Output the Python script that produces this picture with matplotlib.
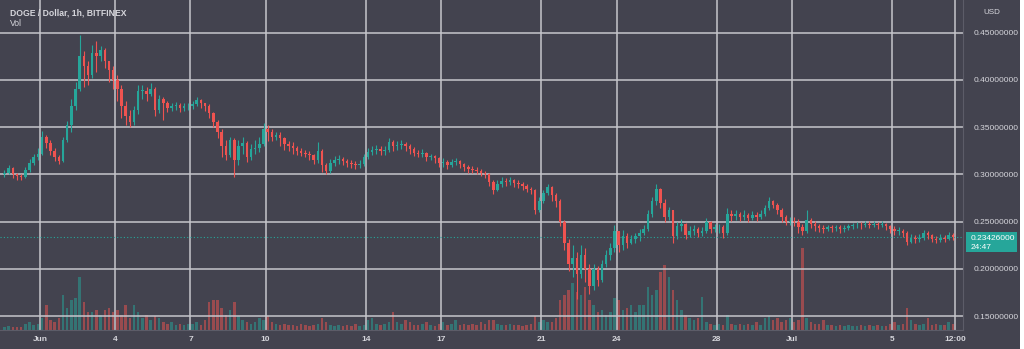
import matplotlib
matplotlib.use("Agg")
import matplotlib.pyplot as plt
import matplotlib.transforms as mtransforms
from matplotlib.patches import Rectangle
import numpy as np

plt.rcParams["font.family"] = ["Liberation Sans", "DejaVu Sans"]

# ---------------- data (4-hour candles) ----------------
start_day = -0.5          # May 30, 12:00 (day 1 = Jun 1)
candles_per_day = 6

close = [
    0.302, 0.307, 0.300,                                  # May 30 pm
    0.298, 0.297, 0.305, 0.312, 0.318, 0.322,             # May 31
    0.340, 0.333, 0.325, 0.318, 0.314, 0.336,             # Jun 1
    0.352, 0.372, 0.390, 0.425, 0.415, 0.405,             # Jun 2
    0.428, 0.425, 0.432, 0.420, 0.410, 0.400,             # Jun 3
    0.390, 0.372, 0.362, 0.355, 0.368, 0.388,             # Jun 4
    0.388, 0.385, 0.390, 0.368, 0.380, 0.375,             # Jun 5
    0.370, 0.372, 0.373, 0.370, 0.372, 0.372,             # Jun 6
    0.374, 0.379, 0.375, 0.372, 0.365, 0.355,             # Jun 7
    0.345, 0.330, 0.320, 0.336, 0.315, 0.330,             # Jun 8
    0.333, 0.318, 0.327, 0.328, 0.332, 0.348,             # Jun 9
    0.345, 0.340, 0.342, 0.338, 0.332, 0.330,             # Jun 10
    0.328, 0.325, 0.323, 0.322, 0.320, 0.315,             # Jun 11
    0.325, 0.310, 0.304, 0.312, 0.315, 0.316,             # Jun 12
    0.314, 0.312, 0.311, 0.310, 0.311, 0.318,             # Jun 13
    0.324, 0.326, 0.327, 0.325, 0.326, 0.334,             # Jun 14
    0.330, 0.331, 0.332, 0.330, 0.327, 0.323,             # Jun 15
    0.322, 0.323, 0.318, 0.319, 0.317, 0.312,             # Jun 16
    0.313, 0.310, 0.313, 0.314, 0.311, 0.308,             # Jun 17
    0.306, 0.305, 0.304, 0.302, 0.300, 0.292,             # Jun 18
    0.284, 0.290, 0.293, 0.292, 0.294, 0.291,             # Jun 19
    0.290, 0.288, 0.285, 0.283, 0.262, 0.272,             # Jun 20
    0.280, 0.287, 0.278, 0.272, 0.250, 0.228,             # Jun 21
    0.205, 0.212, 0.195, 0.215, 0.200, 0.182,             # Jun 22
    0.200, 0.188, 0.205, 0.215, 0.222, 0.240,             # Jun 23
    0.225, 0.235, 0.228, 0.232, 0.235, 0.238,             # Jun 24
    0.242, 0.258, 0.272, 0.285, 0.270, 0.255,             # Jun 25
    0.262, 0.235, 0.245, 0.248, 0.236, 0.240,             # Jun 26
    0.242, 0.238, 0.240, 0.250, 0.242, 0.244,             # Jun 27
    0.244, 0.238, 0.258, 0.256, 0.258, 0.255,             # Jun 28
    0.257, 0.254, 0.257, 0.255, 0.258, 0.265,             # Jun 29
    0.272, 0.268, 0.262, 0.255, 0.250, 0.251,             # Jun 30
    0.250, 0.244, 0.240, 0.252, 0.248, 0.245,             # Jul 1
    0.243, 0.242, 0.244, 0.243, 0.244, 0.242,             # Jul 2
    0.243, 0.245, 0.246, 0.247, 0.246, 0.248,             # Jul 3
    0.247, 0.248, 0.246, 0.248, 0.245, 0.242,             # Jul 4
    0.240, 0.240, 0.238, 0.229, 0.233, 0.232,             # Jul 5
    0.233, 0.238, 0.236, 0.232, 0.231, 0.233,             # Jul 6
    0.232, 0.236, 0.23426,                                # Jul 7 am
]

high = [
    0.305, 0.310, 0.308,
    0.302, 0.300, 0.308, 0.316, 0.322, 0.328,
    0.346, 0.342, 0.336, 0.328, 0.320, 0.340,
    0.356, 0.380, 0.398, 0.447, 0.430, 0.420,
    0.437, 0.441, 0.436, 0.434, 0.420, 0.415,
    0.405, 0.395, 0.378, 0.368, 0.372, 0.395,
    0.395, 0.392, 0.397, 0.392, 0.384, 0.382,
    0.378, 0.376, 0.377, 0.376, 0.376, 0.376,
    0.378, 0.382, 0.380, 0.376, 0.374, 0.366,
    0.358, 0.348, 0.336, 0.340, 0.338, 0.336,
    0.340, 0.335, 0.332, 0.336, 0.340, 0.354,
    0.352, 0.348, 0.345, 0.345, 0.340, 0.335,
    0.334, 0.330, 0.328, 0.326, 0.325, 0.322,
    0.334, 0.327, 0.312, 0.316, 0.319, 0.320,
    0.318, 0.316, 0.315, 0.314, 0.315, 0.322,
    0.328, 0.330, 0.331, 0.330, 0.330, 0.339,
    0.336, 0.335, 0.336, 0.334, 0.332, 0.329,
    0.326, 0.327, 0.324, 0.322, 0.321, 0.318,
    0.317, 0.315, 0.316, 0.317, 0.315, 0.312,
    0.310, 0.309, 0.308, 0.306, 0.304, 0.302,
    0.294, 0.294, 0.297, 0.296, 0.297, 0.295,
    0.294, 0.292, 0.290, 0.287, 0.285, 0.276,
    0.283, 0.290, 0.288, 0.280, 0.274, 0.252,
    0.232, 0.225, 0.218, 0.225, 0.222, 0.205,
    0.205, 0.203, 0.210, 0.220, 0.228, 0.246,
    0.240, 0.241, 0.238, 0.236, 0.238, 0.242,
    0.246, 0.262, 0.276, 0.290, 0.286, 0.274,
    0.266, 0.262, 0.250, 0.253, 0.249, 0.245,
    0.246, 0.244, 0.244, 0.254, 0.251, 0.248,
    0.248, 0.246, 0.264, 0.262, 0.262, 0.260,
    0.262, 0.259, 0.261, 0.260, 0.262, 0.268,
    0.276, 0.273, 0.270, 0.264, 0.257, 0.255,
    0.255, 0.253, 0.248, 0.262, 0.254, 0.251,
    0.248, 0.246, 0.247, 0.247, 0.247, 0.246,
    0.247, 0.248, 0.249, 0.250, 0.250, 0.251,
    0.251, 0.251, 0.250, 0.251, 0.249, 0.247,
    0.245, 0.244, 0.242, 0.240, 0.237, 0.236,
    0.237, 0.241, 0.240, 0.237, 0.235, 0.237,
    0.236, 0.239, 0.238,
]

low = [
    0.297, 0.300, 0.296,
    0.294, 0.294, 0.296, 0.303, 0.310, 0.315,
    0.320, 0.328, 0.320, 0.314, 0.311, 0.313,
    0.334, 0.345, 0.368, 0.388, 0.392, 0.395,
    0.402, 0.408, 0.420, 0.412, 0.398, 0.390,
    0.378, 0.360, 0.352, 0.350, 0.352, 0.364,
    0.380, 0.378, 0.383, 0.362, 0.365, 0.358,
    0.366, 0.367, 0.368, 0.366, 0.367, 0.368,
    0.369, 0.372, 0.370, 0.367, 0.360, 0.350,
    0.338, 0.318, 0.315, 0.318, 0.297, 0.310,
    0.322, 0.313, 0.315, 0.322, 0.324, 0.330,
    0.335, 0.335, 0.336, 0.330, 0.326, 0.325,
    0.322, 0.320, 0.319, 0.318, 0.315, 0.311,
    0.312, 0.303, 0.300, 0.302, 0.309, 0.311,
    0.310, 0.308, 0.307, 0.306, 0.307, 0.309,
    0.316, 0.321, 0.322, 0.320, 0.321, 0.324,
    0.325, 0.326, 0.327, 0.325, 0.322, 0.319,
    0.318, 0.318, 0.314, 0.315, 0.312, 0.308,
    0.308, 0.306, 0.308, 0.310, 0.307, 0.304,
    0.302, 0.301, 0.300, 0.298, 0.296, 0.288,
    0.279, 0.282, 0.287, 0.288, 0.289, 0.287,
    0.286, 0.284, 0.281, 0.279, 0.258, 0.260,
    0.270, 0.278, 0.272, 0.266, 0.245, 0.220,
    0.198, 0.192, 0.168, 0.190, 0.186, 0.174,
    0.178, 0.182, 0.186, 0.202, 0.210, 0.218,
    0.218, 0.220, 0.222, 0.226, 0.228, 0.230,
    0.236, 0.240, 0.255, 0.268, 0.265, 0.250,
    0.252, 0.228, 0.232, 0.240, 0.232, 0.234,
    0.236, 0.234, 0.235, 0.238, 0.238, 0.239,
    0.238, 0.233, 0.236, 0.251, 0.252, 0.251,
    0.252, 0.250, 0.252, 0.251, 0.253, 0.256,
    0.262, 0.264, 0.258, 0.250, 0.246, 0.246,
    0.245, 0.238, 0.236, 0.238, 0.243, 0.240,
    0.239, 0.238, 0.240, 0.239, 0.240, 0.238,
    0.239, 0.241, 0.242, 0.243, 0.242, 0.244,
    0.243, 0.244, 0.242, 0.244, 0.241, 0.238,
    0.236, 0.236, 0.234, 0.225, 0.227, 0.228,
    0.229, 0.231, 0.232, 0.229, 0.228, 0.229,
    0.229, 0.231, 0.231,
]

volume = [   # relative volume (arbitrary units)
    3, 4, 3,
    3, 3, 6, 8, 5, 6,
    12, 25, 10, 8, 12, 35,
    22, 30, 32, 53, 28, 18,
    18, 20, 15, 20, 22, 18,
    20, 15, 25, 12, 25, 18,
    12, 15, 10, 14, 12, 8,
    6, 8, 5, 6, 5, 6,
    6, 8, 5, 10, 28, 30,
    30, 22, 15, 20, 28, 14,
    10, 8, 6, 8, 12, 10,
    14, 8, 6, 5, 6, 5,
    5, 4, 6, 5, 4, 5,
    6, 12, 8, 5, 4, 5,
    4, 5, 4, 6, 4, 5,
    10, 12, 6, 5, 6, 8,
    18, 8, 6, 10, 8, 5,
    5, 6, 8, 5, 4, 6,
    8, 5, 6, 10, 5, 6,
    5, 6, 5, 8, 6, 10,
    10, 6, 5, 5, 6, 5,
    5, 4, 5, 6, 14, 8,
    10, 8, 8, 12, 30, 35,
    40, 47, 38, 35, 43, 30,
    25, 18, 20, 15, 18, 32,
    30, 20, 22, 25, 18, 25,
    25, 43, 35, 40, 58, 65,
    53, 40, 30, 20, 15, 12,
    10, 12, 33, 8, 6, 5,
    6, 5, 15, 6, 5, 6,
    5, 6, 5, 8, 5, 12,
    14, 10, 12, 8, 10, 12,
    8, 10, 82, 12, 8, 6,
    6, 10, 5, 5, 4, 5,
    4, 5, 4, 4, 5, 4,
    5, 4, 5, 4, 4, 6,
    8, 5, 6, 22, 10, 6,
    5, 6, 12, 5, 6, 5,
    5, 8, 6,
]

tick_days = [1, 4, 7, 10, 14, 17, 21, 24, 28, 31, 35, 37.5]
tick_labels = ["Jun", "4", "7", "10", "14", "17", "21", "24", "28", "Jul", "5", "12:00"]
price_ticks = [0.15, 0.20, 0.25, 0.30, 0.35, 0.40, 0.45]
title_text = "DOGE / Dollar, 1h, BITFINEX"
last_price_text = "0.23426000"
countdown_text = "24:47"

# ---------------- style ----------------
BG = "#43434f"
GRID = "#c6c6cc"
TXT = "#d6d6dc"
UP = "#26a69a"
DOWN = "#ef5350"

W, H = 1024, 349
fig = plt.figure(figsize=(W / 100, H / 100), dpi=100, facecolor=BG)

ax_l, ax_b = 0 / W, 19 / H
ax_w, ax_h = 963 / W, 330 / H
ax_vol = fig.add_axes([ax_l, ax_b, ax_w, ax_h], facecolor=BG)
ax = fig.add_axes([ax_l, ax_b, ax_w, ax_h])
ax.patch.set_visible(False)

n = len(close)
close_a = np.array(close)
open_a = np.concatenate([[0.300], close_a[:-1]])
high_a = np.maximum.reduce([np.array(high), open_a, close_a])
low_a = np.minimum.reduce([np.array(low), open_a, close_a])
x = start_day + (np.arange(n) + 0.5) / candles_per_day
up = close_a >= open_a
colors = np.where(up, UP, DOWN)

xlim = (-0.596, 37.82)
ylim = (0.1355, 0.4844)

# volume
vol = np.array(volume, dtype=float)
ax_vol.bar(x, vol, width=1.0 / candles_per_day * 0.6, color=colors, alpha=0.5,
           linewidth=0)
ax_vol.set_xlim(*xlim)
ax_vol.set_ylim(0, vol.max() / 0.25)
ax_vol.axis("off")

# grid
for d in tick_days:
    ax.axvline(d, color=GRID, lw=1.1, zorder=0.5)
for p in price_ticks:
    ax.axhline(p, color=GRID, lw=1.1, zorder=0.5)

# candles
ax.vlines(x, low_a, high_a, colors=colors, lw=0.8, zorder=2)
body_bottom = np.minimum(open_a, close_a)
body_h = np.maximum(np.abs(close_a - open_a), 0.0008)
ax.bar(x, body_h, bottom=body_bottom, width=1.0 / candles_per_day * 0.6,
       color=colors, linewidth=0, zorder=3)

# last price dotted line
last = close_a[-1]
ax.axhline(last, color=UP, lw=0.8, ls=(0, (1, 2)), zorder=1.5)

ax.set_xlim(*xlim)
ax.set_ylim(*ylim)
ax.set_xticks(tick_days)
ax.set_xticklabels(tick_labels)
ax.set_yticks(price_ticks)
ax.set_yticklabels([f"{p:.8f}" for p in price_ticks])
ax.yaxis.tick_right()
ax.tick_params(axis="both", length=0, colors=TXT, labelsize=6.0)
ax.tick_params(axis="y", pad=8)
ax.tick_params(axis="x", pad=4)
for lab in ax.get_xticklabels():
    lab.set_fontweight("bold")
for side in ["top", "left"]:
    ax.spines[side].set_visible(False)
for side in ["bottom", "right"]:
    ax.spines[side].set_color("#5c5c68")
    ax.spines[side].set_linewidth(0.8)

# texts
fig.text(10 / W, 1 - 13 / H, title_text, color=TXT, fontsize=6.2,
         fontweight="bold", va="center", ha="left")
fig.text(10 / W, 1 - 24 / H, "Vol", color=TXT, fontsize=6.2, va="center", ha="left")
fig.text(992 / W, 1 - 12 / H, "USD", color=TXT, fontsize=5.8, va="center", ha="center")

# last price label box (x in figure coords, y in data coords)
trans = mtransforms.blended_transform_factory(fig.transFigure, ax.transData)
px_per_unit = ax_h * H / (ylim[1] - ylim[0])
box_top = last + 5 / px_per_unit
box_bot = last - 15.5 / px_per_unit
ax.add_patch(Rectangle((966 / W, box_bot), 51 / W, box_top - box_bot,
                       transform=trans, facecolor=UP, edgecolor="none",
                       clip_on=False, zorder=5))
ax.text(971 / W, last - 1.5 / px_per_unit, last_price_text, transform=trans,
        color="white", fontsize=6.0, va="center", ha="left", zorder=6, clip_on=False)
ax.text(971 / W, last - 11 / px_per_unit, countdown_text, transform=trans,
        color="white", fontsize=6.0, va="center", ha="left", zorder=6, clip_on=False)

# white right border
fig.patches.append(Rectangle((1020 / W, 0), 4 / W, 1, transform=fig.transFigure,
                             facecolor="white", edgecolor="none"))

fig.savefig("out.png", dpi=100, facecolor=BG)
